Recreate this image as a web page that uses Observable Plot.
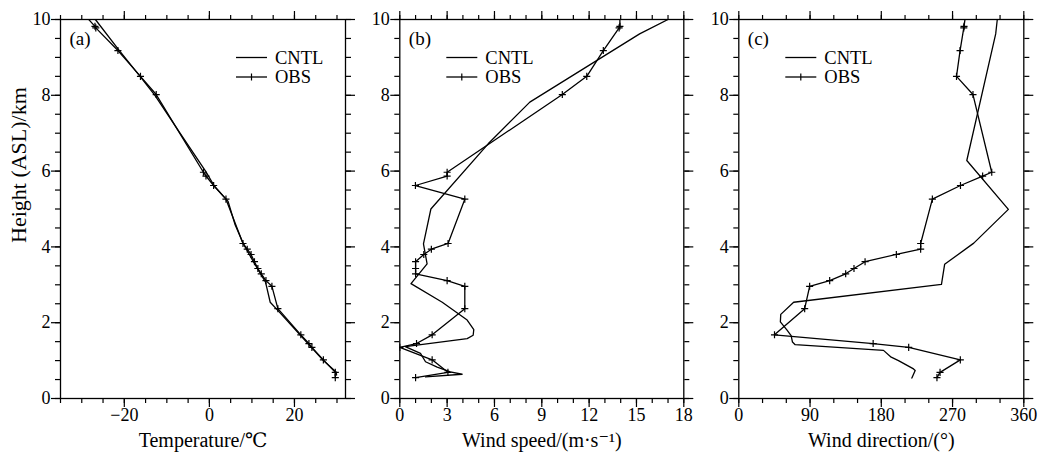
<!DOCTYPE html>
<html><head><meta charset="utf-8">
<script src="https://cdn.jsdelivr.net/npm/d3@7"></script>
<script src="https://cdn.jsdelivr.net/npm/@observablehq/plot@0.6"></script>
<style>
body{margin:0;background:#fff;}
#wrap{position:relative;width:1040px;height:452px;overflow:hidden;background:#fff;}
#wrap > div{position:absolute;top:0;}
#wrap svg, #wrap svg text{font-family:"Times New Roman","Liberation Serif","DejaVu Serif",serif !important;}
</style></head><body><div id="wrap"></div>
<script>
// ---- data ----
const seriesNames = ["CNTL", "OBS"];
const panelTags = ["(a)", "(b)", "(c)"];
const xLabels = ["Temperature/\u2103", "Wind speed/(m\u00b7s\u207b\u00b9)", "Wind direction/(\u00b0)"];
const yLabel = "Height (ASL)/km";

// observation levels (km), shared by the three OBS profiles
const obsHeight = [10.3, 9.82, 9.78, 9.18, 8.50, 8.02, 5.97, 5.87, 5.62, 5.26, 4.09, 3.94, 3.80, 3.61, 3.43, 3.29, 3.11, 2.96, 2.37, 1.68, 1.45, 1.35, 1.02, 0.69, 0.55];
const obsTemp  = [-30.8, -26.9, -26.7, -21.5, -16.2, -12.5, -1.4, -0.8, 1.0, 3.9, 7.9, 8.9, 9.8, 10.6, 11.4, 12.2, 13.3, 14.7, 16.1, 21.5, 23.4, 24.1, 26.8, 29.6, 29.6];
const obsSpeed = [13.95, 13.95, 13.9, 12.9, 11.85, 10.3, 3.0, 3.0, 0.99, 4.12, 3.06, 2.0, 1.52, 1.0, 1.0, 1.0, 3.0, 4.12, 4.12, 2.05, 1.06, 0.0, 2.05, 3.05, 1.0];
const obsDir   = [287.6, 284.5, 284.2, 279.5, 275, 295.8, 319.5, 308, 280, 244.5, 229.7, 229.7, 199, 159.5, 145.5, 135, 114.8, 89.5, 83.2, 45.1, 169.7, 214.6, 279.8, 254.2, 250.3];

// CNTL simulation profiles
const cntlTempHeight = [10.0, 9.2, 8.5, 8.0, 7.0, 6.0, 5.6, 5.2, 4.6, 4.1, 3.6, 3.07, 2.54, 2.3, 1.67, 1.0, 0.7, 0.62];
const cntlTemp       = [-26.8, -21.3, -16.3, -12.8, -6.9, -0.9, 1.2, 4.4, 6.0, 7.9, 10.4, 13.2, 14.3, 16.3, 21.4, 26.8, 29.8, 29.9];
const cntlSpeedHeight = [10.0, 9.62, 7.82, 6.72, 5.0, 4.08, 3.55, 3.03, 2.54, 2.07, 1.82, 1.67, 1.58, 1.37, 1.19, 0.97, 0.83, 0.70, 0.64, 0.57];
const cntlSpeed       = [17.0, 15.2, 8.24, 5.6, 1.97, 1.5, 1.73, 0.71, 2.69, 4.27, 4.69, 4.65, 4.27, 0.35, 1.31, 1.63, 2.37, 3.2, 3.95, 1.63];
const cntlDirHeight = [10.0, 9.62, 6.28, 4.99, 4.10, 3.54, 3.01, 2.54, 2.22, 2.02, 1.81, 1.66, 1.49, 1.42, 1.27, 1.09, 1.0, 0.78, 0.74, 0.54];
const cntlDir       = [326.5, 324.5, 288, 340.5, 296.8, 260, 256, 69.3, 53, 52.5, 60.7, 66.1, 67.8, 71.2, 182.8, 192.5, 201.7, 220.7, 222.8, 218.6];

// axes
const yDomain = [0, 10];
const yTicks = [0, 2, 4, 6, 8, 10];
const tempDomain = [-35, 32], tempTicks = [-20, 0, 20];
const speedDomain = [0, 18], speedTicks = [0, 3, 6, 9, 12, 15, 18];
const dirDomain = [0, 360], dirTicks = [0, 90, 180, 270, 360];

// ---- drawing ----
const FONT = "Times New Roman, Liberation Serif, DejaVu Serif, serif";
const zip = (hs, xs) => hs.map((h, i) => ({h, x: xs[i]}));
const plusSymbol = {draw(ctx, size) { const r = Math.sqrt(size) / 2; ctx.moveTo(-r, 0); ctx.lineTo(r, 0); ctx.moveTo(0, -r); ctx.lineTo(0, r); }};
const yMinor = d3.range(0, 10.001, 0.5);
const noText = () => "";

function legend(dx) {
  return (index, scales, values, dims) => {
    const g = d3.create("svg:g").attr("font-family", FONT).attr("font-size", 18.5).attr("fill", "black").attr("text-anchor", "start");
    const x0 = dims.marginLeft + dx, x1 = x0 + 31;
    const ys = [dims.marginTop + 38.5, dims.marginTop + 58];
    seriesNames.forEach((name, i) => {
      g.append("line").attr("x1", x0).attr("x2", x1).attr("y1", ys[i]).attr("y2", ys[i]).attr("stroke", "black").attr("stroke-width", 1.3);
      if (i === 1) {
        const cx = (x0 + x1) / 2;
        g.append("path").attr("d", `M${cx},${ys[i]-3.5}V${ys[i]+3.5}`).attr("stroke", "black").attr("stroke-width", 1.2);
      }
      g.append("text").attr("x", x1 + 8).attr("y", ys[i]).attr("dy", "0.35em").attr("text-anchor", "start").text(name);
    });
    return g.node();
  };
}

function panel({left, width, marginLeft, marginRight, domain, ticks, minor, xLabel, tag, cntl, obs, legendDx, withYLabel}) {
  const marks = [
    Plot.frame({stroke: "black", strokeWidth: 1.3}),
    Plot.axisX({anchor: "bottom", ticks, tickSize: 9, tickPadding: 1, label: null, strokeWidth: 1.2, fontSize: 18}),
    Plot.axisX({anchor: "bottom", ticks: minor, tickSize: 5, tickFormat: noText, label: null, strokeWidth: 1.2}),
    Plot.axisX({anchor: "top", ticks, tickSize: 9, tickFormat: noText, label: null, strokeWidth: 1.2}),
    Plot.axisX({anchor: "top", ticks: minor, tickSize: 5, tickFormat: noText, label: null, strokeWidth: 1.2}),
    Plot.axisY({anchor: "left", ticks: yTicks, tickSize: 9, tickPadding: 1, label: null, strokeWidth: 1.2, fontSize: 18}),
    Plot.axisY({anchor: "left", ticks: yMinor, tickSize: 5, tickFormat: noText, label: null, strokeWidth: 1.2}),
    Plot.axisY({anchor: "right", ticks: yTicks, tickSize: 9, tickFormat: noText, label: null, strokeWidth: 1.2}),
    Plot.axisY({anchor: "right", ticks: yMinor, tickSize: 5, tickFormat: noText, label: null, strokeWidth: 1.2}),
    Plot.line(cntl, {x: "x", y: "h", stroke: "black", strokeWidth: 1.3, clip: true}),
    Plot.line(obs, {x: "x", y: "h", stroke: "black", strokeWidth: 1.3, clip: true}),
    Plot.dot(obs, {x: "x", y: "h", symbol: plusSymbol, r: 4, stroke: "black", strokeWidth: 1.2, fill: "none", clip: true}),
    Plot.text([tag], {frameAnchor: "top-left", dx: 9, dy: 19, textAnchor: "start", lineAnchor: "middle", fontSize: 19}),
    Plot.text([xLabel], {frameAnchor: "bottom", dy: 42, lineAnchor: "middle", fontSize: 20}),
    legend(legendDx)
  ];
  if (withYLabel) marks.push(Plot.text([yLabel], {frameAnchor: "left", dx: -42, dy: 34, rotate: -90, lineAnchor: "middle", fontSize: 22}));
  const chart = Plot.plot({
    width, height: 452, marginLeft, marginRight, marginTop: 19, marginBottom: 54,
    style: {fontFamily: FONT, fontSize: "18px", color: "black", background: "white", overflow: "visible"},
    x: {domain, label: null},
    y: {domain: yDomain, label: null},
    marks
  });
  const div = document.createElement("div");
  div.style.left = left + "px";
  div.appendChild(chart);
  document.getElementById("wrap").appendChild(div);
}

panel({left: 0, width: 355, marginLeft: 60, marginRight: 10, domain: tempDomain, ticks: tempTicks, minor: d3.range(-35, 32.1, 5),
  xLabel: xLabels[0], tag: panelTags[0], cntl: zip(cntlTempHeight, cntlTemp), obs: zip(obsHeight, obsTemp), legendDx: 176, withYLabel: true});
panel({left: 355, width: 340, marginLeft: 44.3, marginRight: 11.7, domain: speedDomain, ticks: speedTicks, minor: d3.range(0, 18.1, 1),
  xLabel: xLabels[1], tag: panelTags[1], cntl: zip(cntlSpeedHeight, cntlSpeed), obs: zip(obsHeight, obsSpeed), legendDx: 47});
panel({left: 695, width: 345, marginLeft: 43.3, marginRight: 16.7, domain: dirDomain, ticks: dirTicks, minor: d3.range(0, 360.1, 30),
  xLabel: xLabels[2], tag: panelTags[2], cntl: zip(cntlDirHeight, cntlDir), obs: zip(obsHeight, obsDir), legendDx: 47});
</script></body></html>
